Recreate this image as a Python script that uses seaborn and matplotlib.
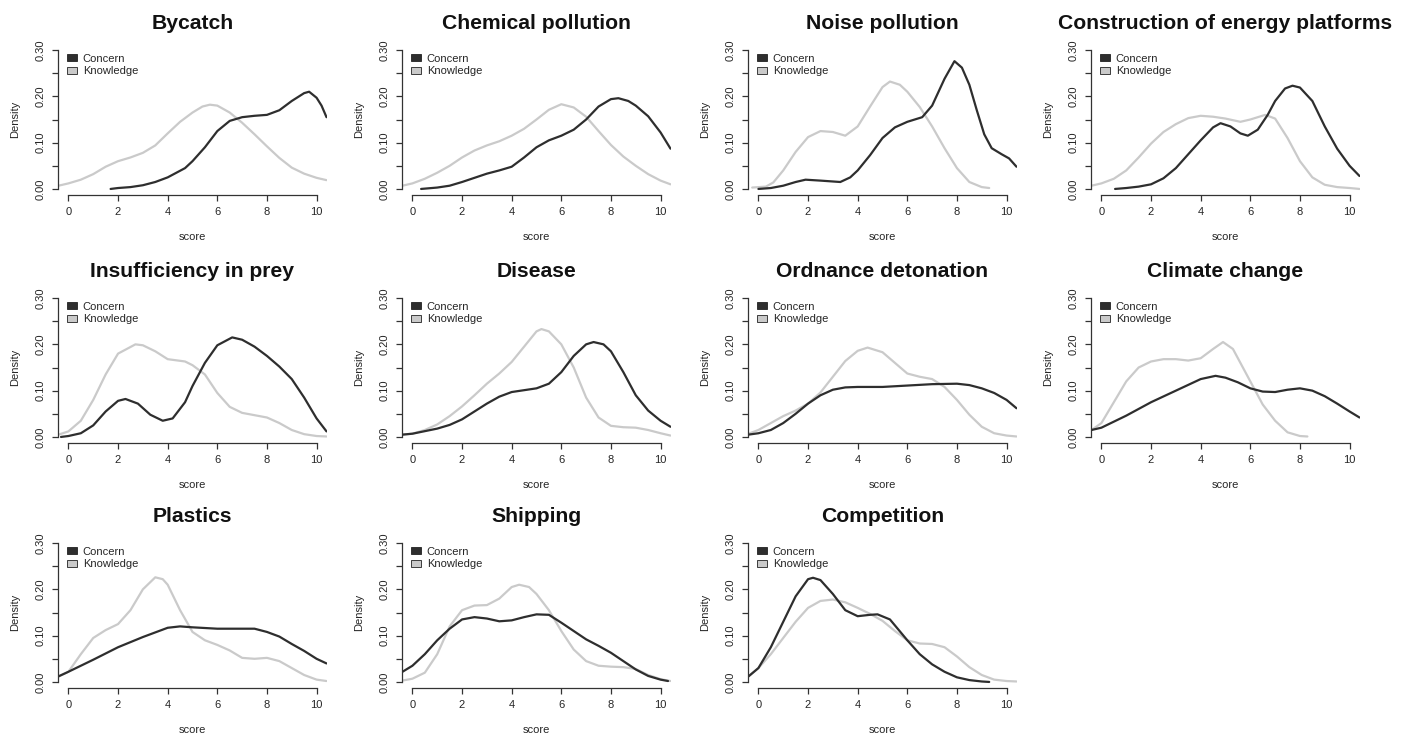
"""
Concern vs knowledge score densities, one panel per threat.
Curves read off the reference figure (R base-graphics style).
"""

import matplotlib.pyplot as plt
import seaborn as sns
from matplotlib.patches import Patch

sns.set_style("white")
plt.rcParams["font.family"] = ["Liberation Sans", "DejaVu Sans"]

# (score, density) points for each curve
bycatch_concern = [(1.7, 0.0), (2, 0.002), (2.5, 0.004), (3, 0.008), (3.5, 0.015), (4, 0.025),
                   (4.7, 0.045), (5, 0.06), (5.5, 0.09), (6, 0.125), (6.5, 0.147), (7, 0.155),
                   (7.5, 0.158), (8, 0.16), (8.5, 0.17), (9, 0.19), (9.5, 0.207), (9.7, 0.21),
                   (10, 0.197), (10.2, 0.18), (10.4, 0.155)]
bycatch_knowledge = [(-0.4, 0.007), (0, 0.012), (0.5, 0.02), (1, 0.032), (1.5, 0.048), (2, 0.06),
                     (2.5, 0.068), (3, 0.078), (3.5, 0.094), (4, 0.12), (4.5, 0.145), (5, 0.165),
                     (5.4, 0.178), (5.7, 0.182), (6, 0.18), (6.5, 0.165), (7, 0.143), (7.5, 0.118),
                     (8, 0.092), (8.5, 0.067), (9, 0.046), (9.5, 0.033), (10, 0.024), (10.4, 0.019)]

chemical_concern = [(0.35, 0.0), (1, 0.003), (1.5, 0.007), (2, 0.015), (2.5, 0.024), (3, 0.033),
                    (3.5, 0.04), (4, 0.048), (4.5, 0.068), (5, 0.09), (5.5, 0.105), (6, 0.115),
                    (6.5, 0.128), (7, 0.15), (7.5, 0.178), (8, 0.194), (8.3, 0.196), (8.7, 0.19),
                    (9, 0.18), (9.5, 0.157), (10, 0.122), (10.4, 0.087)]
chemical_knowledge = [(-0.4, 0.007), (0, 0.012), (0.5, 0.022), (1, 0.035), (1.5, 0.05), (2, 0.068),
                      (2.5, 0.083), (3, 0.094), (3.5, 0.103), (4, 0.115), (4.5, 0.13), (5, 0.15),
                      (5.5, 0.171), (6, 0.183), (6.5, 0.176), (7, 0.156), (7.5, 0.125), (8, 0.095),
                      (8.5, 0.07), (9, 0.05), (9.5, 0.032), (10, 0.018), (10.4, 0.01)]

noise_concern = [(0, 0.0), (0.5, 0.002), (1, 0.007), (1.5, 0.015), (1.9, 0.02), (2.5, 0.018),
                 (3.3, 0.015), (3.7, 0.025), (4, 0.04), (4.5, 0.073), (5, 0.11), (5.5, 0.133),
                 (6, 0.145), (6.6, 0.155), (7, 0.18), (7.5, 0.238), (7.9, 0.276), (8.2, 0.262),
                 (8.5, 0.225), (8.8, 0.17), (9.1, 0.118), (9.4, 0.088), (9.8, 0.075),
                 (10.1, 0.066), (10.4, 0.048)]
noise_knowledge = [(-0.25, 0.003), (0.3, 0.005), (0.6, 0.014), (1, 0.04), (1.5, 0.08), (2, 0.112),
                   (2.5, 0.125), (3, 0.123), (3.5, 0.115), (4, 0.135), (4.5, 0.178), (5, 0.22),
                   (5.3, 0.232), (5.7, 0.225), (6, 0.21), (6.5, 0.177), (7, 0.135), (7.5, 0.088),
                   (8, 0.045), (8.5, 0.015), (9, 0.004), (9.3, 0.002)]

energy_concern = [(0.55, 0.0), (1, 0.002), (1.5, 0.005), (2, 0.01), (2.5, 0.023), (3, 0.045),
                  (3.5, 0.075), (4, 0.105), (4.5, 0.133), (4.8, 0.142), (5.2, 0.135), (5.6, 0.12),
                  (5.9, 0.115), (6.3, 0.128), (6.7, 0.16), (7, 0.19), (7.4, 0.217), (7.7, 0.223),
                  (8, 0.219), (8.5, 0.19), (9, 0.135), (9.5, 0.087), (10, 0.05), (10.4, 0.028)]
energy_knowledge = [(-0.4, 0.007), (0, 0.012), (0.5, 0.022), (1, 0.04), (1.5, 0.068), (2, 0.098),
                    (2.5, 0.123), (3, 0.14), (3.5, 0.153), (4, 0.158), (4.5, 0.156), (5, 0.152),
                    (5.6, 0.145), (6, 0.15), (6.6, 0.16), (7, 0.152), (7.5, 0.11), (8, 0.06),
                    (8.5, 0.025), (9, 0.009), (9.5, 0.004), (10, 0.002), (10.4, 0.0)]

prey_concern = [(-0.3, 0.0), (0, 0.002), (0.5, 0.008), (1, 0.025), (1.5, 0.055), (2, 0.078),
                (2.3, 0.082), (2.8, 0.072), (3.3, 0.048), (3.8, 0.035), (4.2, 0.04), (4.7, 0.075),
                (5, 0.11), (5.5, 0.16), (6, 0.198), (6.6, 0.215), (7, 0.21), (7.5, 0.195),
                (8, 0.175), (8.5, 0.152), (9, 0.125), (9.5, 0.085), (10, 0.04), (10.4, 0.012)]
prey_knowledge = [(-0.4, 0.005), (0, 0.012), (0.5, 0.035), (1, 0.08), (1.5, 0.135), (2, 0.18),
                  (2.7, 0.2), (3, 0.198), (3.5, 0.185), (4, 0.168), (4.7, 0.163), (5, 0.155),
                  (5.5, 0.135), (6, 0.095), (6.5, 0.065), (7, 0.052), (8, 0.042), (8.5, 0.03),
                  (9, 0.015), (9.5, 0.006), (10, 0.002), (10.4, 0.001)]

disease_concern = [(-0.4, 0.005), (0, 0.007), (1, 0.018), (1.5, 0.026), (2, 0.038), (2.5, 0.055),
                   (3, 0.072), (3.5, 0.087), (4, 0.097), (4.5, 0.101), (5, 0.105), (5.5, 0.115),
                   (6, 0.14), (6.5, 0.175), (7, 0.2), (7.3, 0.205), (7.7, 0.2), (8, 0.185),
                   (8.5, 0.14), (9, 0.09), (9.5, 0.057), (10, 0.035), (10.4, 0.022)]
disease_knowledge = [(-0.4, 0.005), (0, 0.007), (0.5, 0.015), (1, 0.027), (1.5, 0.045), (2, 0.066),
                     (2.5, 0.09), (3, 0.115), (3.5, 0.137), (4, 0.162), (4.5, 0.195), (5, 0.228),
                     (5.2, 0.233), (5.5, 0.228), (6, 0.2), (6.5, 0.15), (7, 0.085), (7.5, 0.042),
                     (8, 0.024), (8.5, 0.021), (9, 0.02), (9.5, 0.015), (10, 0.008), (10.4, 0.003)]

ordnance_concern = [(-0.4, 0.005), (0, 0.008), (0.5, 0.015), (1, 0.03), (1.5, 0.05), (2, 0.072),
                    (2.5, 0.09), (3, 0.102), (3.5, 0.107), (4, 0.108), (5, 0.108), (6, 0.111),
                    (7, 0.114), (8, 0.115), (8.5, 0.112), (9, 0.105), (9.5, 0.095), (10, 0.08),
                    (10.4, 0.062)]
ordnance_knowledge = [(-0.4, 0.007), (0, 0.015), (0.5, 0.03), (1, 0.045), (1.5, 0.057), (2, 0.072),
                      (2.5, 0.096), (3, 0.13), (3.5, 0.164), (4, 0.186), (4.4, 0.193), (5, 0.183),
                      (5.5, 0.16), (6, 0.137), (6.5, 0.13), (7, 0.125), (7.5, 0.108), (8, 0.08),
                      (8.5, 0.048), (9, 0.022), (9.5, 0.008), (10, 0.003), (10.4, 0.001)]

climate_concern = [(-0.4, 0.015), (0, 0.02), (1, 0.046), (2, 0.075), (3, 0.1), (4, 0.125),
                   (4.6, 0.132), (5, 0.128), (5.5, 0.118), (6, 0.105), (6.5, 0.098), (7, 0.097),
                   (7.5, 0.102), (8, 0.105), (8.5, 0.1), (9, 0.088), (9.5, 0.072), (10, 0.055),
                   (10.4, 0.042)]
climate_knowledge = [(-0.4, 0.015), (0, 0.03), (0.5, 0.075), (1, 0.12), (1.5, 0.15), (2, 0.163),
                     (2.5, 0.168), (3, 0.168), (3.5, 0.165), (4, 0.17), (4.5, 0.19), (4.9, 0.205),
                     (5.3, 0.19), (5.7, 0.15), (6, 0.12), (6.5, 0.07), (7, 0.035), (7.5, 0.01),
                     (8, 0.002), (8.3, 0.001)]

plastics_concern = [(-0.4, 0.012), (0, 0.022), (1, 0.048), (2, 0.075), (3, 0.097), (4, 0.117),
                    (4.5, 0.12), (5, 0.118), (6, 0.115), (7, 0.115), (7.5, 0.115), (8, 0.108),
                    (8.5, 0.098), (9, 0.082), (9.5, 0.067), (10, 0.05), (10.4, 0.04)]
plastics_knowledge = [(-0.4, 0.012), (0, 0.022), (0.5, 0.06), (1, 0.095), (1.5, 0.112), (2, 0.125),
                      (2.5, 0.155), (3, 0.2), (3.5, 0.226), (3.8, 0.222), (4, 0.21), (4.5, 0.155),
                      (5, 0.108), (5.5, 0.09), (6, 0.08), (6.5, 0.068), (7, 0.052), (7.5, 0.05),
                      (8, 0.052), (8.5, 0.045), (9, 0.03), (9.5, 0.015), (10, 0.005), (10.4, 0.002)]

shipping_concern = [(-0.4, 0.022), (0, 0.035), (0.5, 0.06), (1, 0.09), (1.5, 0.115), (2, 0.135),
                    (2.5, 0.14), (3, 0.137), (3.5, 0.131), (4, 0.133), (4.5, 0.14), (5, 0.146),
                    (5.5, 0.145), (6, 0.128), (6.5, 0.11), (7, 0.092), (7.5, 0.078), (8, 0.063),
                    (8.5, 0.045), (9, 0.027), (9.5, 0.013), (10, 0.005), (10.3, 0.002)]
shipping_knowledge = [(-0.4, 0.003), (0, 0.007), (0.5, 0.02), (1, 0.06), (1.5, 0.12), (2, 0.155),
                      (2.5, 0.165), (3, 0.166), (3.5, 0.18), (4, 0.205), (4.3, 0.21), (4.7, 0.205),
                      (5, 0.19), (5.5, 0.155), (6, 0.11), (6.5, 0.07), (7, 0.045), (7.5, 0.035),
                      (8, 0.033), (8.5, 0.032), (9, 0.028), (9.5, 0.015), (10, 0.006), (10.4, 0.002)]

competition_concern = [(-0.4, 0.012), (0, 0.03), (0.5, 0.075), (1, 0.13), (1.5, 0.185), (2, 0.222),
                       (2.2, 0.225), (2.5, 0.22), (3, 0.19), (3.5, 0.155), (4, 0.142), (4.5, 0.145),
                       (4.8, 0.146), (5.3, 0.135), (6, 0.09), (6.5, 0.06), (7, 0.038), (7.5, 0.022),
                       (8, 0.01), (8.5, 0.004), (9, 0.001), (9.3, 0.0)]
competition_knowledge = [(-0.4, 0.012), (0, 0.03), (0.5, 0.06), (1, 0.095), (1.5, 0.13), (2, 0.16),
                         (2.5, 0.175), (3, 0.178), (3.5, 0.172), (4, 0.16), (4.5, 0.147), (5, 0.132),
                         (5.5, 0.11), (6, 0.09), (6.5, 0.083), (7, 0.082), (7.5, 0.075), (8, 0.055),
                         (8.5, 0.032), (9, 0.015), (9.5, 0.005), (10, 0.002), (10.4, 0.001)]

titles = ["Bycatch", "Chemical pollution", "Noise pollution", "Construction of energy platforms",
          "Insufficiency in prey", "Disease", "Ordnance detonation", "Climate change",
          "Plastics", "Shipping", "Competition"]
concern_curves = [bycatch_concern, chemical_concern, noise_concern, energy_concern,
                  prey_concern, disease_concern, ordnance_concern, climate_concern,
                  plastics_concern, shipping_concern, competition_concern]
knowledge_curves = [bycatch_knowledge, chemical_knowledge, noise_knowledge, energy_knowledge,
                    prey_knowledge, disease_knowledge, ordnance_knowledge, climate_knowledge,
                    plastics_knowledge, shipping_knowledge, competition_knowledge]

x_ticks = [0, 2, 4, 6, 8, 10]
y_ticks = [0.0, 0.05, 0.10, 0.15, 0.20, 0.25, 0.30]
y_tick_labels = ["0.00", "", "0.10", "", "0.20", "", "0.30"]

CONCERN_COL = "#2e2e2e"
KNOWLEDGE_COL = "#cacaca"
TEXT_COL = "#262626"

W, H = 1402, 736
col_left = [58, 402, 748, 1091]
row_top = [44.5, 292.5, 537.5]
ax_w, ax_h = 269, 150

fig = plt.figure(figsize=(W / 100, H / 100), dpi=100)

for i, title in enumerate(titles):
    r, c = divmod(i, 4)
    ax = fig.add_axes([col_left[c] / W, 1 - (row_top[r] + ax_h) / H, ax_w / W, ax_h / H])

    for pts, col in [(knowledge_curves[i], KNOWLEDGE_COL), (concern_curves[i], CONCERN_COL)]:
        xs, ys = zip(*pts)
        sns.lineplot(x=list(xs), y=list(ys), ax=ax, color=col, lw=1.6,
                     sort=False, estimator=None)

    ax.set_xlim(-0.42, 10.42)
    ax.set_ylim(-0.012, 0.312)
    ax.set_xticks(x_ticks)
    ax.set_xticklabels([str(t) for t in x_ticks], fontsize=8, color=TEXT_COL)
    ax.set_yticks(y_ticks)
    ax.set_yticklabels(y_tick_labels, fontsize=8, color=TEXT_COL,
                       rotation=90, va="center")
    ax.tick_params(axis="both", direction="out", length=4, width=0.9,
                   color="#333333", pad=5, left=True, bottom=True)

    sns.despine(ax=ax)
    ax.spines["left"].set_bounds(0, 0.30)
    ax.spines["bottom"].set_bounds(0, 10)
    for s in ("left", "bottom"):
        ax.spines[s].set_linewidth(0.9)
        ax.spines[s].set_color("#333333")

    ax.set_xlabel("score", fontsize=8, color=TEXT_COL)
    ax.set_ylabel("Density", fontsize=8, color=TEXT_COL)
    ax.xaxis.set_label_coords(0.5, -0.25)
    ax.yaxis.set_label_coords(-0.14, 0.5)
    ax.set_title(title, fontsize=15.2, fontweight="bold", pad=11, color="#111111")

    handles = [Patch(facecolor=CONCERN_COL, edgecolor="#222222", lw=0.6, label="Concern"),
               Patch(facecolor=KNOWLEDGE_COL, edgecolor="#222222", lw=0.6, label="Knowledge")]
    leg = ax.legend(handles=handles, loc="upper left", bbox_to_anchor=(0.005, 0.99),
                    frameon=False, fontsize=8, handlelength=0.9, handleheight=0.6,
                    handletextpad=0.5, labelspacing=0.2, borderpad=0.2)
    for t in leg.get_texts():
        t.set_color(TEXT_COL)

fig.savefig("out.png", dpi=100)
